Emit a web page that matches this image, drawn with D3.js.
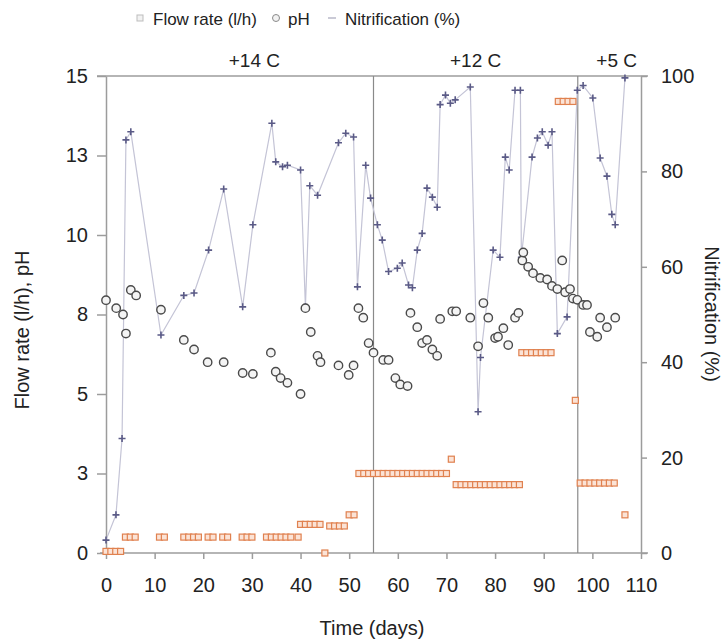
<!DOCTYPE html>
<html>
<head>
<meta charset="utf-8">
<script src="https://cdn.jsdelivr.net/npm/d3@7"></script>
<style>
  body { margin: 0; background: #fff; }
  svg { font-family: "Liberation Sans", Arial, sans-serif; }
</style>
</head>
<body>
<svg width="724" height="641"></svg>
<script>
// flow rate (l/h), left axis
const flowDays = [0, 1, 2, 3, 4, 5, 6, 11, 12, 16, 17, 18, 19, 21, 22, 24, 25, 28, 29, 30,
  33, 34, 35, 36, 37, 38, 39.5, 40, 41, 42, 43, 44, 45, 46, 47, 48, 49, 50, 51,
  52, 53, 54, 55, 56, 57, 58, 59, 60, 61, 62, 63, 64, 65, 66, 67, 68, 69, 70, 71,
  72, 73, 74, 75, 76, 77, 78, 79, 80, 81, 82, 83, 84, 85,
  85.5, 86.5, 87.5, 88.5, 89.5, 90.5, 91.5, 93, 94, 95, 96, 96.5,
  97.5, 98.5, 99.5, 100.5, 101.5, 102.5, 103.5, 104.5, 106.7];
const flowValues = [0.05, 0.05, 0.05, 0.05, 0.5, 0.5, 0.5, 0.5, 0.5, 0.5, 0.5, 0.5, 0.5, 0.5, 0.5, 0.5, 0.5, 0.5, 0.5, 0.5,
  0.5, 0.5, 0.5, 0.5, 0.5, 0.5, 0.5, 0.9, 0.9, 0.9, 0.9, 0.9, 0.0, 0.85, 0.85, 0.85, 0.85, 1.2, 1.2,
  2.5, 2.5, 2.5, 2.5, 2.5, 2.5, 2.5, 2.5, 2.5, 2.5, 2.5, 2.5, 2.5, 2.5, 2.5, 2.5, 2.5, 2.5, 2.5, 2.95,
  2.15, 2.15, 2.15, 2.15, 2.15, 2.15, 2.15, 2.15, 2.15, 2.15, 2.15, 2.15, 2.15, 2.15,
  6.3, 6.3, 6.3, 6.3, 6.3, 6.3, 6.3, 14.2, 14.2, 14.2, 14.2, 4.8,
  2.2, 2.2, 2.2, 2.2, 2.2, 2.2, 2.2, 2.2, 1.2];

// pH, left axis
const phDays = [0, 2.1, 3.5, 4.1, 5.1, 6.2, 11.3, 16, 18.1, 20.9, 24.2, 28.1, 30.2, 33.9, 34.9, 35.9, 37.3,
  40, 41, 42.1, 43.5, 44.1, 47.8, 49.9, 50.9, 51.9, 52.9, 54, 55, 57, 58.1, 59.5, 60.5, 62,
  62.6, 64, 65, 66, 67.1, 68.1, 68.7, 71.2, 72, 74.9, 76.5, 77.6, 78.6, 80, 80.6, 81.7, 82.7,
  84.1, 84.8, 85.6, 85.8, 86.8, 87.8, 89.3, 90.7, 91.7, 92.8, 93.8, 94.4, 95.4, 96, 96.9,
  98.1, 98.9, 99.5, 101, 101.6, 103, 104.7];
const phValues = [7.95, 7.7, 7.5, 6.9, 8.27, 8.1, 7.65, 6.7, 6.4, 6.0, 6.0, 5.66, 5.63, 6.3, 5.7, 5.5, 5.35,
  5.0, 7.7, 6.95, 6.2, 6.0, 5.9, 5.6, 5.9, 7.7, 7.4, 6.6, 6.3, 6.07, 6.07, 5.5, 5.3, 5.25,
  7.55, 7.1, 6.6, 6.7, 6.4, 6.2, 7.36, 7.6, 7.6, 7.4, 6.5, 7.86, 7.4, 6.76, 6.8, 7.07, 6.54,
  7.4, 7.55, 9.2, 9.45, 9.0, 8.8, 8.65, 8.6, 8.4, 8.3, 9.2, 8.2, 8.3, 8.0, 7.96,
  7.8, 7.8, 6.95, 6.8, 7.4, 7.1, 7.4];

// nitrification (%), right axis
const nitDays = [0, 2.05, 3.3, 4.1, 5.1, 11.3, 16, 18.1, 21.1, 24.2, 28.1, 30.2, 34.1, 34.9, 36.3, 37.3,
  40, 41, 41.9, 43.5, 47.8, 49.3, 50.9, 51.7, 53.4, 54.4, 55.8, 56.8, 58.1, 59.9, 60.9, 62.2, 63,
  64, 65, 66, 67.1, 68.1, 68.7, 69.8, 70.8, 71.8, 74.9, 76.5, 77, 79.6, 81, 82.1, 82.9,
  84.1, 85.2, 85.4, 87.6, 88.7, 89.7, 90.9, 91.7, 92.8, 94.8, 96.9, 98.1, 100.1, 101.6,
  103, 104, 104.7, 106.7];
const nitValues = [2.7, 8, 24, 86.6, 88.3, 45.7, 54, 54.5, 63.5, 76.3, 51.6, 68.8, 90.1, 82, 81, 81.3,
  80.3, 51.6, 77, 75, 86, 88, 87.2, 55.8, 81.3, 74.4, 68.8, 65.6, 59, 59.7, 60.8, 56.2, 55.6,
  63.5, 67, 76.5, 74.6, 72.5, 94, 96, 94.3, 95, 97.7, 29.6, 41, 63.5, 62, 83, 80.3,
  97, 97, 62, 83, 87, 88.3, 85.5, 88.3, 46, 49.5, 97, 98, 95.4, 82.8,
  79, 71, 68.8, 99.6];

const xTicks = [0, 10, 20, 30, 40, 50, 60, 70, 80, 90, 100, 110];
const leftTicks = [0, 2.5, 5, 7.5, 10, 12.5, 15];
const rightTicks = [0, 20, 40, 60, 80, 100];
const periodBreaks = [55, 97];
const periodLabels = ["+14 C", "+12 C", "+5 C"];
const periodLabelDays = [30.5, 76, 105];

const svg = d3.select('svg');
const axisColor = '#9c9c9c';

const x = d3.scaleLinear().domain([0, 110]).range([106, 641]);
const yL = d3.scaleLinear().domain([0, 15]).range([553, 76]);
const yR = d3.scaleLinear().domain([0, 100]).range([553, 76]);

// frame lines
svg.append('line').attr('x1', 97).attr('x2', 648).attr('y1', 76).attr('y2', 76)
  .attr('stroke', axisColor).attr('stroke-width', 1.5);
svg.append('line').attr('x1', 100).attr('x2', 648).attr('y1', 553).attr('y2', 553)
  .attr('stroke', axisColor).attr('stroke-width', 1.5);

// period separators
svg.selectAll('.sep').data(periodBreaks).enter().append('line')
  .attr('x1', d => x(d)).attr('x2', d => x(d))
  .attr('y1', 76).attr('y2', 553)
  .attr('stroke', '#8a8a8a').attr('stroke-width', 1.2);

svg.selectAll('.plabel').data(periodLabels).enter().append('text')
  .attr('x', (d, i) => x(periodLabelDays[i])).attr('y', 67)
  .attr('text-anchor', 'middle').attr('font-size', 19).attr('fill', '#222')
  .text(d => d);

// axes
function styleAxis(g) {
  g.selectAll('path, line').attr('stroke', axisColor).attr('stroke-width', 1.5);
  g.selectAll('text').attr('font-size', 20).attr('fill', '#222')
    .attr('font-family', '"Liberation Sans", Arial, sans-serif');
}

svg.append('g').attr('transform', 'translate(0,553)')
  .call(d3.axisBottom(x).tickValues(xTicks).tickSize(6).tickPadding(19).tickSizeOuter(0))
  .call(styleAxis)
  .call(g => g.select('.domain').remove());

svg.append('g').attr('transform', 'translate(106,0)')
  .call(d3.axisLeft(yL).tickValues(leftTicks).tickFormat(d => Math.round(d)).tickSize(9).tickPadding(9).tickSizeOuter(0))
  .call(styleAxis);

svg.append('g').attr('transform', `translate(${x(110)},0)`)
  .call(d3.axisRight(yR).tickValues(rightTicks).tickSize(6).tickPadding(14).tickSizeOuter(0))
  .call(styleAxis);

// axis titles
svg.append('text').attr('x', 372).attr('y', 635).attr('text-anchor', 'middle')
  .attr('font-size', 20).attr('fill', '#222').text('Time (days)');
svg.append('text').attr('transform', 'translate(29,330) rotate(-90)').attr('text-anchor', 'middle')
  .attr('font-size', 20).attr('fill', '#222').text('Flow rate (l/h), pH');
svg.append('text').attr('transform', 'translate(705,314) rotate(90)').attr('text-anchor', 'middle')
  .attr('font-size', 20).attr('fill', '#222').text('Nitrification (%)');

// nitrification line + markers
const nitData = nitDays.map((d, i) => [d, nitValues[i]]);
svg.append('path').datum(nitData)
  .attr('fill', 'none').attr('stroke', '#c4c4d6').attr('stroke-width', 1.2)
  .attr('d', d3.line().x(d => x(d[0])).y(d => yR(d[1])));

const plusShape = { draw(ctx, s) { const r = Math.sqrt(s) / 2; ctx.moveTo(-r, 0); ctx.lineTo(r, 0); ctx.moveTo(0, -r); ctx.lineTo(0, r); } };
svg.selectAll('.nit').data(nitData).enter().append('path')
  .attr('transform', d => `translate(${x(d[0])},${yR(d[1])})`)
  .attr('d', d3.symbol().type(plusShape).size(49))
  .attr('stroke', '#5a5a86').attr('stroke-width', 1.6).attr('fill', 'none');

// flow rate squares
svg.selectAll('.flow').data(flowDays).enter().append('rect')
  .attr('x', (d) => x(d) - 3).attr('y', (d, i) => yL(flowValues[i]) - 3)
  .attr('width', 6).attr('height', 6)
  .attr('fill', '#fbe3d6').attr('stroke', '#e0814f').attr('stroke-width', 1.2);

// pH circles
svg.selectAll('.ph').data(phDays).enter().append('circle')
  .attr('cx', d => x(d)).attr('cy', (d, i) => yL(phValues[i]))
  .attr('r', 4.2)
  .attr('fill', '#f4f4f4').attr('stroke', '#4a4a4a').attr('stroke-width', 1.4);

// legend
const legend = svg.append('g').attr('font-size', 17).attr('fill', '#222');
legend.append('rect').attr('x', 137).attr('y', 15).attr('width', 6).attr('height', 6)
  .attr('fill', '#f2f2f2').attr('stroke', '#bdbdbd');
legend.append('text').attr('x', 153).attr('y', 25).text('Flow rate (l/h)');
legend.append('circle').attr('cx', 276).attr('cy', 18).attr('r', 3.5)
  .attr('fill', '#f2f2f2').attr('stroke', '#8a8a8a');
legend.append('text').attr('x', 288).attr('y', 25).text('pH');
legend.append('line').attr('x1', 328).attr('x2', 336).attr('y1', 18).attr('y2', 18)
  .attr('stroke', '#b8b8c8').attr('stroke-width', 1.5);
legend.append('text').attr('x', 345).attr('y', 25).text('Nitrification (%)');
</script>
</body>
</html>
